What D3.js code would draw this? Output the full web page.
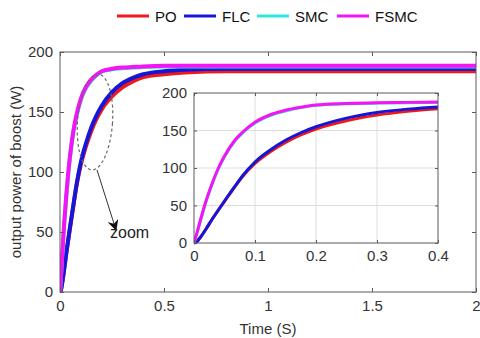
<!DOCTYPE html>
<html>
<head>
<meta charset="utf-8">
<script src="https://d3js.org/d3.v7.min.js"></script>
<style>
    html, body { margin: 0; padding: 0; background: #fff; }
    svg { display: block; font-family: "Liberation Sans", Arial, Helvetica, sans-serif; }
</style>
</head>
<body>
<div id="chart"></div>
<script>
// Step response of the boost output power for each controller
const timeS = [0, 0.005, 0.01, 0.02, 0.03, 0.04, 0.05, 0.067, 0.08, 0.1, 0.125, 0.15, 0.175, 0.2, 0.25, 0.3, 0.35, 0.4, 0.5, 0.6, 0.8, 1.0, 1.5, 2.0];
const powerPO   = [0, 2, 7, 19, 32, 44, 55.5, 75, 89, 106, 121.5, 134, 144, 152, 163, 170.5, 175.5, 179, 181.5, 183, 184, 184, 184, 184];
const powerFLC  = [0, 2, 7, 19, 32, 44, 56, 75.5, 90, 108, 124, 137, 147, 155, 166.5, 174, 178.5, 181.5, 184, 185.2, 186, 186, 186, 186];
const powerSMC  = [0, 14, 28, 56, 79, 99, 115, 136, 147, 160, 170, 176, 180.5, 183.5, 185.5, 186.5, 187, 187.5, 188, 188, 188, 188, 188, 188];
const powerFSMC = [0, 14, 29, 57, 80, 100, 116, 137, 148, 161, 171, 177, 181, 184, 186, 187, 187.5, 188, 188.5, 188.5, 188.5, 188.5, 188.5, 188.5];

const seriesNames = ['PO', 'FLC', 'SMC', 'FSMC'];
const seriesColors = ['#f01818', '#1616d8', '#2ee6e6', '#f414f4'];
const seriesValues = [powerPO, powerFLC, powerSMC, powerFSMC];

const mainXTicks = [0, 0.5, 1, 1.5, 2];
const mainXTickLabels = ['0', '0.5', '1', '1.5', '2'];
const mainYTicks = [0, 50, 100, 150, 200];
const insetXTicks = [0, 0.1, 0.2, 0.3, 0.4];
const insetYTicks = [0, 50, 100, 150, 200];

const width = 480;
const height = 338;
const axisColor = '#5a5a5a';
const labelColor = '#333';

const svg = d3.select('#chart')
    .append('svg')
    .attr('width', width)
    .attr('height', height);

const series = seriesNames.map((name, i) => ({
    name: name,
    color: seriesColors[i],
    points: timeS.map((t, j) => ({ t: t, v: seriesValues[i][j] }))
}));

// draws one MATLAB style box axes with inward ticks
function drawAxes(g, x, y, xTicks, yTicks, opts) {
    const [x0, x1] = x.range();
    const [y0, y1] = y.range();
    const tickLen = opts.tickLen;

    if (opts.background) {
        g.append('rect')
            .attr('x', x0).attr('y', y1)
            .attr('width', x1 - x0).attr('height', y0 - y1)
            .attr('fill', '#fff');
    }

    if (opts.grid) {
        g.append('g').selectAll('line.gx')
            .data(xTicks.slice(1, -1))
            .enter().append('line')
            .attr('x1', d => x(d)).attr('x2', d => x(d))
            .attr('y1', y0).attr('y2', y1)
            .attr('stroke', '#dedede').attr('stroke-width', 1);
        g.append('g').selectAll('line.gy')
            .data(yTicks.slice(1, -1))
            .enter().append('line')
            .attr('x1', x0).attr('x2', x1)
            .attr('y1', d => y(d)).attr('y2', d => y(d))
            .attr('stroke', '#dedede').attr('stroke-width', 1);
    }

    const clipId = opts.clipId;
    g.append('clipPath').attr('id', clipId)
        .append('rect')
        .attr('x', x0).attr('y', y1 - 4)
        .attr('width', x1 - x0).attr('height', y0 - y1 + 8);

    const line = d3.line()
        .x(d => x(d.t))
        .y(d => y(d.v))
        .curve(d3.curveMonotoneX);

    g.append('g')
        .attr('clip-path', `url(#${clipId})`)
        .selectAll('path')
        .data(series)
        .enter()
        .append('path')
        .attr('d', d => line(d.points.filter(p => p.t <= x.domain()[1] + 0.1)))
        .attr('fill', 'none')
        .attr('stroke', d => d.color)
        .attr('stroke-width', opts.lineWidth)
        .attr('stroke-linejoin', 'round');

    // bottom / left axes with labels, top / right mirrored ticks
    const bottom = g.append('g')
        .attr('transform', `translate(0,${y0})`)
        .call(d3.axisBottom(x).tickValues(xTicks)
            .tickFormat((d, i) => opts.xLabels ? opts.xLabels[i] : d3.format('')(d))
            .tickSizeInner(-tickLen).tickSizeOuter(0).tickPadding(opts.xPad));
    const left = g.append('g')
        .attr('transform', `translate(${x0},0)`)
        .call(d3.axisLeft(y).tickValues(yTicks)
            .tickSizeInner(-tickLen).tickSizeOuter(0).tickPadding(opts.yPad));
    const top = g.append('g')
        .attr('transform', `translate(0,${y1})`)
        .call(d3.axisTop(x).tickValues(xTicks).tickFormat('')
            .tickSizeInner(-tickLen).tickSizeOuter(0));
    const right = g.append('g')
        .attr('transform', `translate(${x1},0)`)
        .call(d3.axisRight(y).tickValues(yTicks).tickFormat('')
            .tickSizeInner(-tickLen).tickSizeOuter(0));

    [bottom, left, top, right].forEach(a => {
        a.select('.domain').remove();
        a.selectAll('line').attr('stroke', axisColor);
        a.selectAll('text')
            .attr('fill', labelColor)
            .style('font-size', '15px');
    });

    g.append('rect')
        .attr('x', x0).attr('y', y1)
        .attr('width', x1 - x0).attr('height', y0 - y1)
        .attr('fill', 'none')
        .attr('stroke', axisColor)
        .attr('stroke-width', 1);
}

// main axes
const xMain = d3.scaleLinear().domain([0, 2]).range([60, 476]);
const yMain = d3.scaleLinear().domain([0, 200]).range([292, 52]);

drawAxes(svg.append('g'), xMain, yMain, mainXTicks, mainYTicks, {
    tickLen: 4, lineWidth: 4, grid: false, background: false,
    clipId: 'clip-main', xLabels: mainXTickLabels, xPad: 8, yPad: 7
});

svg.append('text')
    .attr('x', 268).attr('y', 334)
    .attr('text-anchor', 'middle')
    .attr('fill', labelColor)
    .style('font-size', '15px')
    .text('Time (S)');

svg.append('text')
    .attr('transform', 'translate(21,172) rotate(-90)')
    .attr('text-anchor', 'middle')
    .attr('fill', labelColor)
    .style('font-size', '15px')
    .text('output power of boost (W)');

// dashed ellipse marking the zoomed region, and the arrow
svg.append('ellipse')
    .attr('cx', 95).attr('cy', 122)
    .attr('rx', 17.5).attr('ry', 48)
    .attr('transform', 'rotate(4,95,122)')
    .attr('fill', 'none')
    .attr('stroke', '#6a6a6a')
    .attr('stroke-width', 1.2)
    .attr('stroke-dasharray', '3,2.5');

svg.append('defs').append('marker')
    .attr('id', 'arrowhead')
    .attr('viewBox', '0 0 10 10')
    .attr('refX', 9).attr('refY', 5)
    .attr('markerWidth', 11).attr('markerHeight', 11)
    .attr('markerUnits', 'userSpaceOnUse')
    .attr('orient', 'auto')
    .append('path')
    .attr('d', 'M0,0 L10,5 L0,10 L3,5 Z')
    .attr('fill', '#111');

svg.append('line')
    .attr('x1', 97).attr('y1', 170)
    .attr('x2', 116).attr('y2', 230)
    .attr('stroke', '#333')
    .attr('stroke-width', 1)
    .attr('marker-end', 'url(#arrowhead)');

svg.append('text')
    .attr('x', 110).attr('y', 238)
    .attr('fill', '#222')
    .style('font-size', '16px')
    .text('zoom');

// inset axes
const xInset = d3.scaleLinear().domain([0, 0.4]).range([194, 438]);
const yInset = d3.scaleLinear().domain([0, 200]).range([243, 93]);

drawAxes(svg.append('g'), xInset, yInset, insetXTicks, insetYTicks, {
    tickLen: 3, lineWidth: 3, grid: true, background: true,
    clipId: 'clip-inset', xPad: 7, yPad: 7
});

// legend
const legendX = [117, 184, 257, 337];
const legend = svg.append('g');
series.forEach((s, i) => {
    legend.append('line')
        .attr('x1', legendX[i]).attr('x2', legendX[i] + 32)
        .attr('y1', 16).attr('y2', 16)
        .attr('stroke', s.color)
        .attr('stroke-width', 3);
    legend.append('text')
        .attr('x', legendX[i] + 38).attr('y', 21.5)
        .attr('fill', '#111')
        .style('font-size', '15px')
        .text(s.name);
});
</script>
</body>
</html>
